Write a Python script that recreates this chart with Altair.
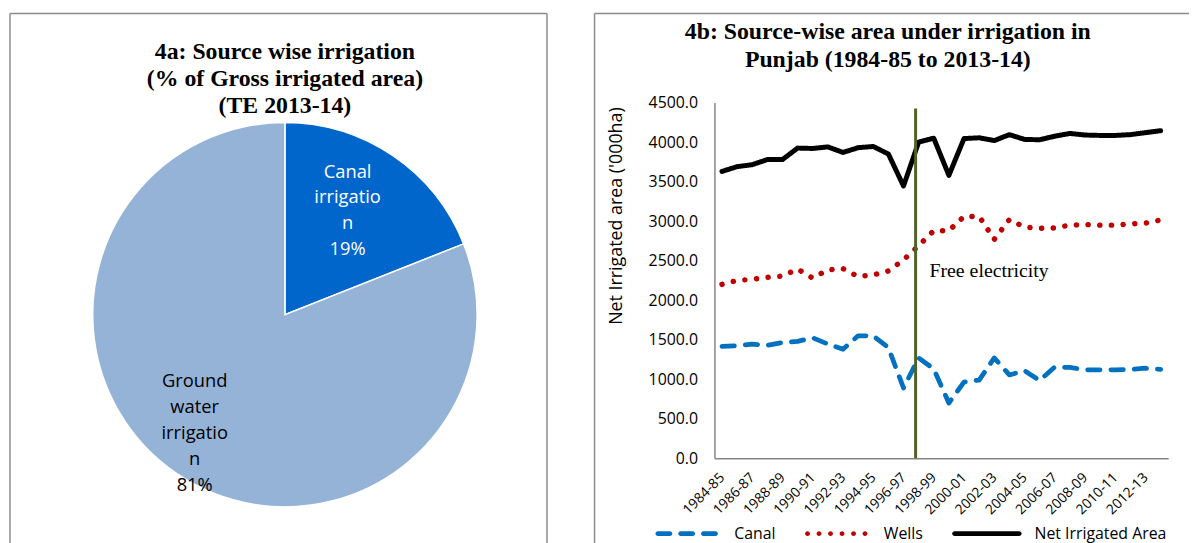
import json
import altair as alt
import pandas as pd

# ---------------- 4a : pie ----------------
pie_sources = ["Canal irrigation", "Ground water irrigation"]
pie_labels = ["Canal\nirrigatio\nn", "Ground\nwater\nirrigatio\nn"]
pie_shares = [19, 81]
pie_colors = ["#0066CC", "#95B3D7"]
title_a = "4a: Source wise irrigation\n(% of Gross irrigated area)\n(TE 2013-14)"

# ---------------- 4b : lines ----------------
years = ["1984-85", "1985-86", "1986-87", "1987-88", "1988-89", "1989-90",
         "1990-91", "1991-92", "1992-93", "1993-94", "1994-95", "1995-96",
         "1996-97", "1997-98", "1998-99", "1999-00", "2000-01", "2001-02",
         "2002-03", "2003-04", "2004-05", "2005-06", "2006-07", "2007-08",
         "2008-09", "2009-10", "2010-11", "2011-12", "2012-13", "2013-14"]
canal = [1415, 1425, 1445, 1430, 1465, 1480, 1525, 1445, 1380, 1550,
         1550, 1400, 890, 1270, 1130, 700, 965, 990, 1270, 1055,
         1110, 985, 1155, 1150, 1120, 1120, 1120, 1125, 1140, 1125]
wells = [2200, 2250, 2265, 2290, 2305, 2395, 2280, 2385, 2400, 2300,
         2320, 2370, 2510, 2690, 2880, 2880, 3060, 3060, 2770, 3020,
         2925, 2910, 2915, 2950, 2958, 2950, 2950, 2965, 2975, 3015]
net = [3630, 3690, 3715, 3780, 3780, 3925, 3920, 3940, 3870, 3930,
       3945, 3850, 3445, 4000, 4050, 3580, 4045, 4055, 4020, 4095,
       4035, 4030, 4075, 4110, 4090, 4085, 4085, 4095, 4120, 4145]
series_names = ["Canal", "Wells", "Net Irrigated Area"]
series_colors = ["#0070C0", "#C00000", "#000000"]
y_ticks = [0, 500, 1000, 1500, 2000, 2500, 3000, 3500, 4000, 4500]
x_tick_idx = list(range(0, 30, 2))
event_pos = [12.8]
event_label = ["Free electricity"]
title_b = "4b: Source-wise area under irrigation in\nPunjab (1984-85 to 2013-14)"

FRAME = "#8c8c8c"
SANS = "Open Sans"
SERIF = "Liberation Serif"

# shared vertical origin: both panels' origins sit at the line chart's plot top
TOP = -90          # frame top relative to the origin
FRAME_H = 535      # frame height (runs past the bottom edge)

# ================= left panel =================
AW = 542
CX, CY, R = 277.5, 214, 194

pie_df = pd.DataFrame({"source": pie_sources, "label": pie_labels, "share": pie_shares})
pie_base = alt.Chart(pie_df).transform_calculate(
    ordr="indexof(%s, datum.source)" % json.dumps(pie_sources)
)
theta = alt.Theta("share:Q", stack=True, scale=alt.Scale(domain=[0, 100]))

arcs = pie_base.mark_arc(outerRadius=R, stroke="white", strokeWidth=1.5).encode(
    theta=theta,
    color=alt.Color("source:N", scale=alt.Scale(domain=pie_sources, range=pie_colors), legend=None),
    order=alt.Order("ordr:Q"),
    x=alt.value(CX), y=alt.value(CY),
)

def pie_text(idx, radius, color, dx, dy, lh):
    return pie_base.transform_calculate(
        txt="datum.ordr == %d ? datum.label + '\\n' + datum.share + '%%' : ''" % idx
    ).mark_text(
        radius=radius, lineBreak="\n", font=SANS, fontSize=18.5, lineHeight=lh,
        color=color, align="center", baseline="middle", dx=dx, dy=dy,
    ).encode(
        theta=theta, order=alt.Order("ordr:Q"), text="txt:N",
        x=alt.value(CX), y=alt.value(CY),
    )

canal_txt = pie_text(0, 125, "white", -7, -41, 26)
ground_txt = pie_text(1, 146, "black", -9, -54, 26.3)

ttl_a = alt.Chart(pd.DataFrame({"t": [title_a]})).mark_text(
    font=SERIF, fontWeight="bold", fontSize=24, lineHeight=27.7, lineBreak="\n",
    align="center", baseline="middle", color="black",
).encode(text="t:N", x=alt.value(CX), y=alt.value(TOP + 38.5))

fr = alt.Chart(pd.DataFrame({"k": [0]})).mark_rule(color=FRAME, strokeWidth=1.5)
fa_left = fr.encode(x=alt.value(0), y=alt.value(TOP), y2=alt.value(TOP + FRAME_H))
fa_top = fr.encode(x=alt.value(0), x2=alt.value(AW), y=alt.value(TOP))
fa_right = fr.encode(x=alt.value(AW), y=alt.value(TOP), y2=alt.value(TOP + FRAME_H))

left = alt.layer(arcs, canal_txt, ground_txt, ttl_a, fa_left, fa_top, fa_right).properties(
    width=AW, height=TOP + FRAME_H
)

# ================= right panel =================
BW, BH = 458, 359
FX = -121          # right frame's left edge relative to the plot's left edge

xscale = alt.Scale(domain=[-0.5, 29.5], nice=False, zero=False)
yscale = alt.Scale(domain=[0, 4500], nice=False)

x_axis = alt.Axis(
    values=x_tick_idx, labelExpr="%s[datum.value]" % json.dumps(years),
    labelAngle=-45, labelAlign="right", labelBaseline="middle", labelPadding=17,
    labelFont=SANS, labelFontSize=14, labelColor="black", labelOverlap=False, labelFlush=False,
    ticks=False, grid=False, domainColor="#868686", domainWidth=1.5, title=None,
)
y_axis = alt.Axis(
    values=y_ticks, format=".1f", labelFont=SANS, labelFontSize=16, labelColor="black",
    labelPadding=17, ticks=False, grid=False, domainColor="#868686", domainWidth=1.5,
    title="Net Irrigated area ('000ha)", titleFont=SANS, titleFontSize=18, titleFontWeight="normal",
    titleColor="black", titleX=-99, titleY=114, titleAlign="center", titleBaseline="middle",
    titleAngle=270,
)

def series_line(name, values, color, dash, width):
    df = pd.DataFrame({"year": years, "value": values, "series": name})
    return alt.Chart(df).transform_calculate(
        idx="indexof(%s, datum.year)" % json.dumps(years)
    ).mark_line(
        color=color, strokeDash=dash, strokeWidth=width, strokeCap="round", strokeJoin="round"
    ).encode(
        x=alt.X("idx:Q", scale=xscale, axis=x_axis, title=None),
        y=alt.Y("value:Q", scale=yscale, axis=y_axis),
    )

canal_line = series_line(series_names[0], canal, series_colors[0], [12.5, 11], 4.8)
wells_line = series_line(series_names[1], wells, series_colors[1], [0.1, 11.7], 5.5)
net_line = series_line(series_names[2], net, series_colors[2], [1, 0], 5)

# legend symbols (custom paths, unit scale = 4 px with symbol size 64)
def pill(x1, x2, h):
    return ("M%.3f,%.3fL%.3f,%.3fA%.3f,%.3f 0 0 1 %.3f,%.3fL%.3f,%.3fA%.3f,%.3f 0 0 1 %.3f,%.3fZ"
            % (x1 + h, -h, x2 - h, -h, h, h, x2 - h, h, x1 + h, h, h, h, x1 + h, -h))

def dot(cx, r):
    return "M%.3f,0A%.3f,%.3f 0 1 0 %.3f,0A%.3f,%.3f 0 1 0 %.3f,0Z" % (cx - r, r, r, cx + r, r, r, cx - r)

canal_sym = pill(-7.875, -3.625, 0.6) + pill(-2.125, 2.125, 0.6) + pill(3.625, 7.875, 0.6)
wells_sym = "".join(dot(c, 0.62) for c in [-7.25, -4.35, -1.45, 1.45, 4.35, 7.25])
net_sym = pill(-8.75, 8.75, 0.6)

leg = dict(
    title=None, orient="none", legendX=-36, legendY=427, direction="horizontal",
    symbolSize=64, symbolStrokeWidth=0, symbolOpacity=1, labelFont=SANS, labelFontSize=16,
    labelColor="black", labelOffset=40, columnPadding=29, padding=0,
)
legend_df = pd.DataFrame({"series": series_names})
legend_layer = alt.Chart(legend_df).transform_filter("false").mark_point(filled=True, size=64, opacity=1).encode(
    fill=alt.Fill("series:N", scale=alt.Scale(domain=series_names, range=series_colors), legend=alt.Legend(**leg)),
    shape=alt.Shape("series:N", scale=alt.Scale(domain=series_names, range=[canal_sym, wells_sym, net_sym]),
                    legend=alt.Legend(**leg)),
)

event_df = pd.DataFrame({"pos": event_pos, "label": event_label})
rule = alt.Chart(event_df).mark_rule(color="#4F6228", strokeWidth=3).encode(
    x=alt.X("pos:Q", scale=xscale, axis=x_axis, title=None), y=alt.value(6), y2=alt.value(BH)
)
ann = alt.Chart(event_df).mark_text(
    align="left", baseline="middle", dx=14, font=SERIF, fontSize=20, color="black"
).encode(x=alt.X("pos:Q", scale=xscale, axis=x_axis, title=None), y=alt.value(170), text="label:N")

ttl_b = alt.Chart(pd.DataFrame({"t": [title_b]})).mark_text(
    font=SERIF, fontWeight="bold", fontSize=24, lineHeight=28, lineBreak="\n",
    align="center", baseline="middle", color="black",
).encode(text="t:N", x=alt.value(175), y=alt.value(-71))

fb_left = fr.encode(x=alt.value(FX), y=alt.value(TOP), y2=alt.value(TOP + FRAME_H))
fb_top = fr.encode(x=alt.value(FX), x2=alt.value(479), y=alt.value(TOP))

right = alt.layer(canal_line, wells_line, net_line, legend_layer, rule, ann, ttl_b,
                  fb_left, fb_top).properties(width=BW, height=BH)

chart = alt.hconcat(left, right, spacing=46).resolve_scale(
    color="independent", fill="independent", shape="independent",
).resolve_legend(
    color="independent", fill="independent", shape="independent",
).properties(
    padding={"left": 1, "top": 2, "right": 0, "bottom": 0}
).configure_view(strokeWidth=0)

chart.save("out.html", embed_options={"renderer": "svg", "actions": False})
